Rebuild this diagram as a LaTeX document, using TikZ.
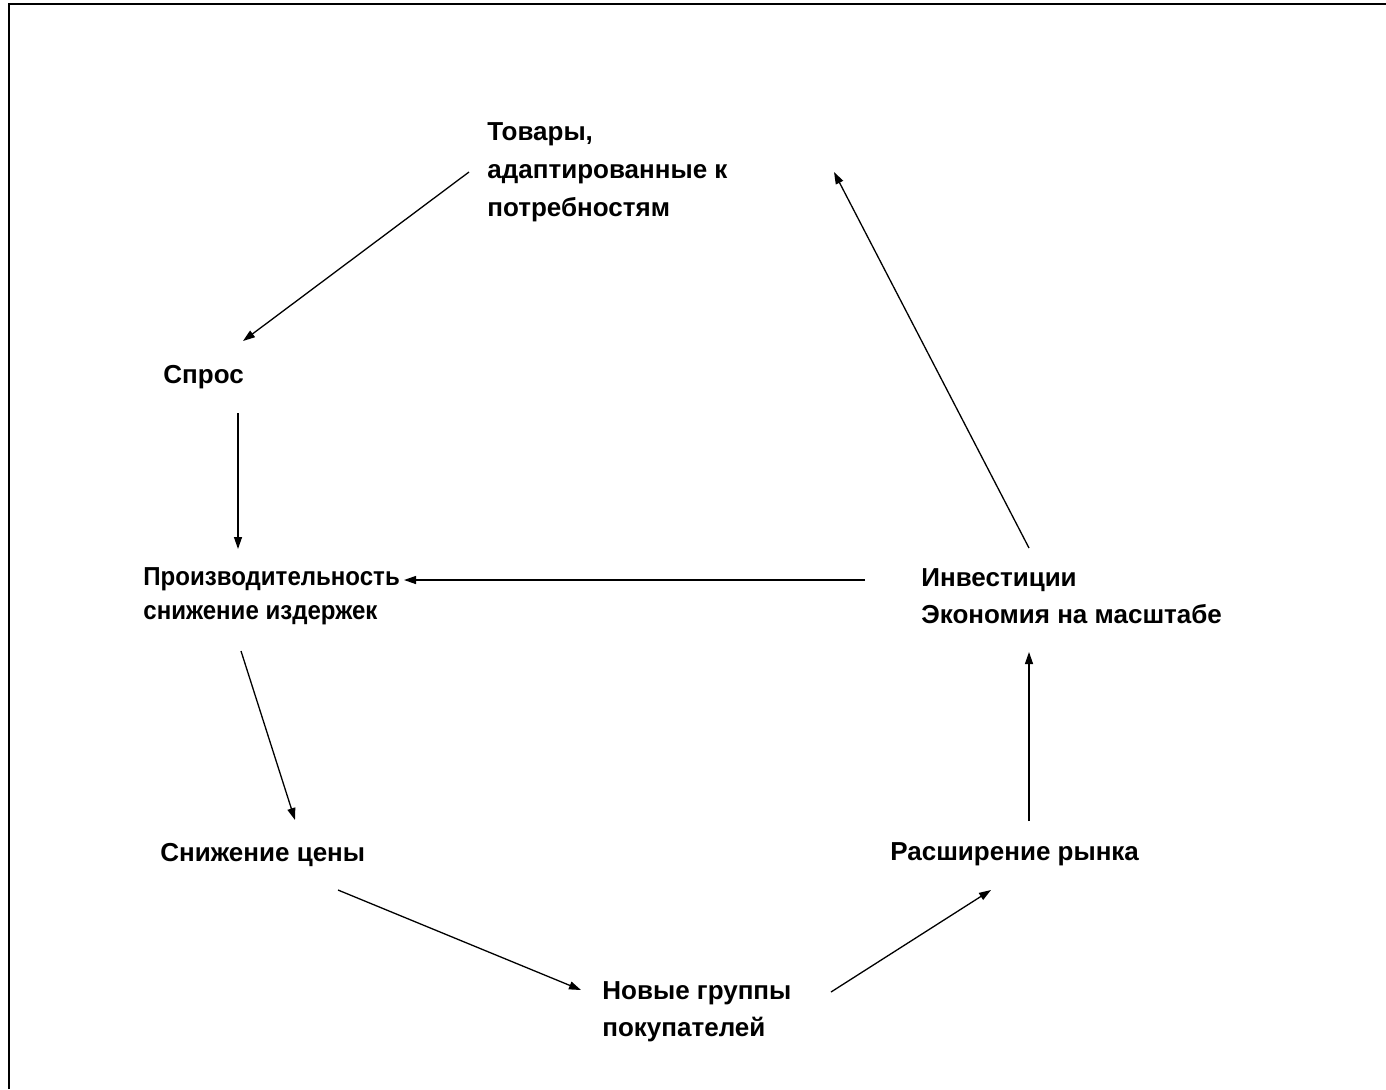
\documentclass[tikz,border=0pt]{standalone}
\usepackage{fontspec}
\setmainfont{Liberation Sans}
\newfontfamily\narrowsans[FakeStretch=0.925]{Liberation Sans}
\usetikzlibrary{arrows.meta}
\begin{document}
\begin{tikzpicture}[x=0.5pt,y=-0.5pt,
		lbl/.style={font=\bfseries\fontsize{13}{19}\selectfont,align=left,inner sep=0pt,anchor=north west},
		arr/.style={-{Triangle[length=6pt,width=4pt]},line width=0.65pt}]
		\useasboundingbox (0,0) rectangle (1386,1089);
		\draw[line width=1pt] (8.5,1089) |- (1386,3.5);
		\node[lbl] (tov) at (487,122) {Товары,\\адаптированные к\\потребностям};
		\node[lbl] (spros) at (163,365) {Спрос};
		\node[lbl,font=\narrowsans\bfseries\fontsize{13}{17}\selectfont] (proizv) at (143,567) {Производительность\\снижение издержек};
		\node[lbl,font=\bfseries\fontsize{13}{18.5}\selectfont] (invest) at (921,568) {Инвестиции\\Экономия на масштабе};
		\node[lbl] (cena) at (160,843) {Снижение цены};
		\node[lbl] (rynok) at (890,842) {Расширение рынка};
		\node[lbl,font=\bfseries\fontsize{13}{18.5}\selectfont] (nov) at (602,981) {Новые группы\\покупателей};
		\draw[arr] ([shift={(-18,50)}]tov.north west)--([shift={(80,-24)}]spros.north west);
		\draw[arr] ([shift={(75,48)}]spros.north west)--([shift={(95,-18)}]proizv.north west);
		\draw[arr] ([shift={(98,84)}]proizv.north west)--([shift={(135,-23)}]cena.north west);
		\draw[arr] ([shift={(178,47)}]cena.north west)--([shift={(-21,9)}]nov.north west);
		\draw[arr] ([shift={(229,11)}]nov.north west)--([shift={(101,48)}]rynok.north west);
		\draw[arr] ([shift={(139,-21)}]rynok.north west)--([shift={(108,84)}]invest.north west);
		\draw[arr] ([shift={(-56,12)}]invest.north west)--([shift={(261,13)}]proizv.north west);
		\draw[arr] ([shift={(108,-20)}]invest.north west)--([shift={(347,50)}]tov.north west);
	\end{tikzpicture}
\end{document}
